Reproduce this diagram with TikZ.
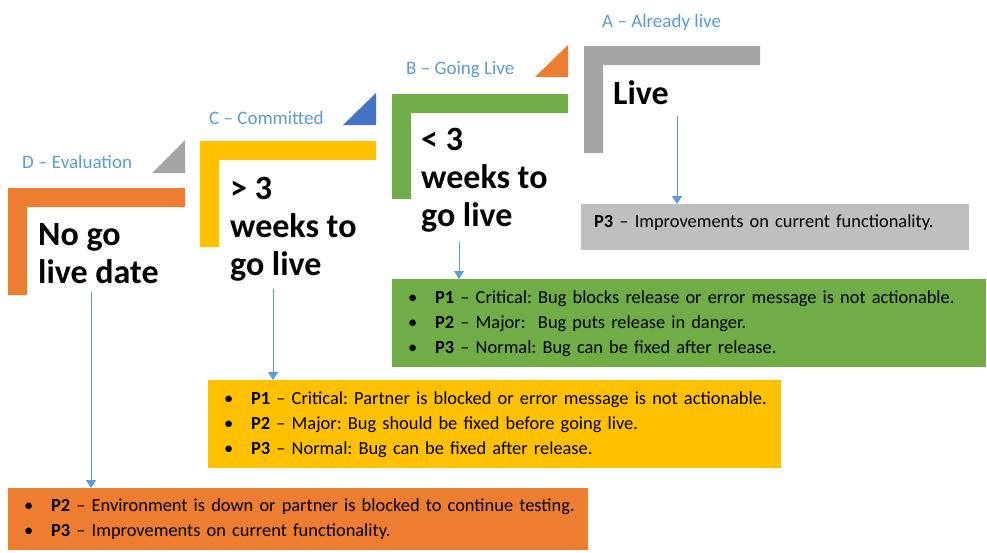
\documentclass[tikz,border=0pt]{standalone}
\usepackage{fontspec}
\setmainfont{Carlito}
\usetikzlibrary{arrows.meta}
\definecolor{evalorange}{HTML}{ED7D31}\definecolor{commyellow}{HTML}{FFC000}
\definecolor{livegreen}{HTML}{70AD47}\definecolor{framegray}{HTML}{A5A5A5}
\definecolor{boxgray}{HTML}{BFBFBF}\definecolor{triblue}{HTML}{4472C4}
\definecolor{labelblue}{HTML}{5B9BD5}
\newcommand{\prio}[2]{\mbox{\makebox[27pt][l]{\textbullet}\textbf{#1} -- #2}}
\hyphenpenalty=10000 \frenchspacing \hbadness=10000 \hfuzz=50pt

\begin{document}
\begin{tikzpicture}[x=1pt,y=-1pt,>={Triangle[width=10pt,length=8pt]},
stagelabel/.style={anchor=west,inner sep=0,text=labelblue,font=\fontsize{19}{23}\selectfont},
stagetext/.style={anchor=base west,inner sep=0,align=left,font=\fontsize{34}{38}\selectfont\bfseries},
prlist/.style={anchor=north west,inner xsep=16pt,inner ysep=0,align=left,font=\fontsize{18.4}{25}\selectfont},
pointer/.style={->,draw=labelblue,fill=labelblue,line width=1pt}]
\useasboundingbox (0,0) rectangle (987,552);
% stage frames: x, y, right, bottom, colour
\foreach \sx/\sy/\sr/\sb/\sc in {8/188/185/295/evalorange,200/141/376/247/commyellow,392/94/568/199/livegreen,584/46/760/153/framegray}
  \fill[\sc] (\sx,\sy) -- (\sr,\sy) -- (\sr,\sy+19) -- (\sx+19,\sy+19) -- (\sx+19,\sb) -- (\sx,\sb) -- cycle;
\fill[framegray] (152,173) -- (185,173) -- (185,140) -- cycle; \fill[triblue] (343,125) -- (376,125) -- (376,93) -- cycle;
\fill[evalorange] (535,77) -- (568,77) -- (568,45) -- cycle;
\node[stagelabel] (dlabel) at (22,162) {D -- Evaluation}; \node[stagelabel] (clabel) at (209,118) {C -- Committed};
\node[stagelabel] (blabel) at (406,70) {B -- Going Live}; \node[stagelabel] (alabel) at (602,22) {A -- Already live};
% base of a multi-line node is its last line
\node[stagetext] (dtext) at (38,283) {No go\\live date}; \node[stagetext] (ctext) at (230,275) {> 3\\weeks to\\go live};
\node[stagetext] (btext) at (421,226) {< 3\\weeks to\\go live}; \node[stagetext] (atext) at (613,104) {Live};
% priority boxes
\node[prlist,fill=boxgray,minimum width=388pt,minimum height=46pt,inner xsep=13pt,text width=362pt,text height=13pt,text depth=13pt] (alist) at (581,204) {\textbf{P3} -- Improvements on current functionality.};
\node[prlist,fill=livegreen,minimum width=594pt,minimum height=88pt,text width=562pt] (blist) at (392,279) {\prio{P1}{Critical: Bug blocks release or error message is not actionable.}\\\prio{P2}{Major:\ \ Bug puts release in danger.}\\\prio{P3}{Normal: Bug can be fixed after release.}};
\node[prlist,fill=commyellow,minimum width=573pt,minimum height=88pt,text width=541pt] (clist) at (208,380) {\prio{P1}{Critical: Partner is blocked or error message is not actionable.}\\\prio{P2}{Major: Bug should be fixed before going live.}\\\prio{P3}{Normal: Bug can be fixed after release.}};
\node[prlist,fill=evalorange,minimum width=580pt,minimum height=62pt,text width=548pt] (dlist) at (8,488) {\prio{P2}{Environment is down or partner is blocked to continue testing.}\\\prio{P3}{Improvements on current functionality.}};
\coordinate (atail) at (677,116); \coordinate (btail) at (459,242); \coordinate (ctail) at (273,289); \coordinate (dtail) at (91,292);
\draw[pointer] (atail) -- (atail |- alist.north); \draw[pointer] (btail) -- (btail |- blist.north);
\draw[pointer] (ctail) -- (ctail |- clist.north); \draw[pointer] (dtail) -- (dtail |- dlist.north);
\end{tikzpicture}
\end{document}
